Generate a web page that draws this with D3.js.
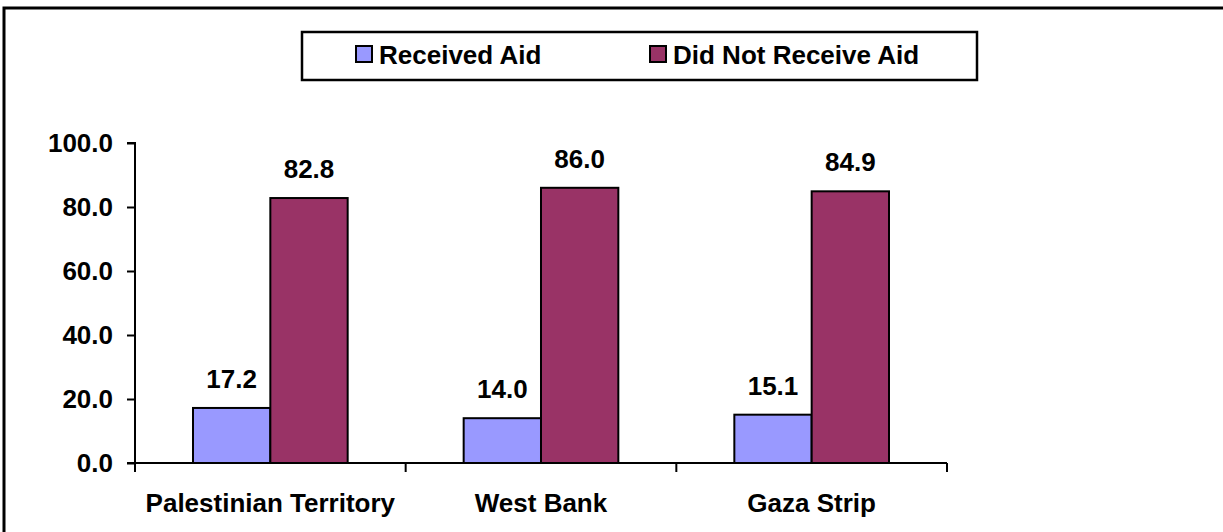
<html>
<head>
<script src="https://d3js.org/d3.v7.min.js"></script>
<style>
  body { margin: 0; background: #fff; font-family: Arial, 'Liberation Sans', sans-serif; }
  svg { display: block; }
</style>
</head>
<body>
<svg width="1223" height="532"></svg>
<script>
var regions = ["Palestinian Territory", "West Bank", "Gaza Strip"];
var series = ["Received Aid", "Did Not Receive Aid"];
var received = [17.2, 14.0, 15.1];
var notReceived = [82.8, 86.0, 84.9];
var yTicks = [0, 20, 40, 60, 80, 100];
var colors = ["#9999ff", "#993366"];

var svg = d3.select("svg");
var width = +svg.attr("width");
var height = +svg.attr("height");
var fs = 26;

// outer frame
svg.append("rect")
  .attr("x", 4).attr("y", 8)
  .attr("width", width + 10).attr("height", height + 10)
  .attr("fill", "none").attr("stroke", "#000").attr("stroke-width", 3);

var plotL = 135, plotR = 947, plotT = 143, plotB = 463;

var x = d3.scaleBand().domain(regions).range([plotL, plotR]).paddingInner(0).paddingOuter(0);
var xs = d3.scaleBand().domain([0, 1]).range([58, x.bandwidth() - 58]);
var y = d3.scaleLinear().domain([0, 100]).range([plotB, plotT]);

var rows = regions.map(function(r, i) { return { region: r, values: [received[i], notReceived[i]] }; });

var g = svg.append("g");
g.selectAll("g.grp")
  .data(rows).enter().append("g")
  .attr("transform", function(d) { return "translate(" + x(d.region) + ",0)"; })
  .each(function(d) {
    var grp = d3.select(this);
    d.values.forEach(function(v, k) {
      grp.append("rect")
        .attr("x", xs(k)).attr("y", y(v))
        .attr("width", xs.bandwidth()).attr("height", y(0) - y(v))
        .attr("fill", colors[k]).attr("stroke", "#000").attr("stroke-width", 2);
      grp.append("text")
        .attr("x", xs(k) + xs.bandwidth() / 2).attr("y", y(v) - 20)
        .attr("text-anchor", "middle")
        .attr("font-size", fs).attr("font-weight", "bold")
        .text(v.toFixed(1));
    });
  });

// y axis
var yAxis = d3.axisLeft(y).tickValues(yTicks).tickFormat(d3.format(".1f")).tickSize(8).tickPadding(14);
var ya = svg.append("g").attr("transform", "translate(" + plotL + ",0)").call(yAxis);
ya.select(".domain").attr("stroke-width", 2).attr("d", "M-8," + plotT + "H0V" + plotB + "H-8");
ya.selectAll(".tick line").attr("stroke-width", 2);
ya.selectAll("text").attr("font-size", fs).attr("font-weight", "bold")
  .attr("font-family", "Arial, 'Liberation Sans', sans-serif").attr("fill", "#000");

// x axis
var xa = svg.append("g").attr("transform", "translate(0," + plotB + ")");
xa.append("line").attr("x1", plotL).attr("x2", plotR).attr("y1", 0).attr("y2", 0)
  .attr("stroke", "#000").attr("stroke-width", 2);
var bounds = regions.map(function(r) { return x(r); }).concat([plotR]);
xa.selectAll("line.tk").data(bounds).enter().append("line")
  .attr("class", "tk")
  .attr("x1", function(d) { return d; }).attr("x2", function(d) { return d; })
  .attr("y1", 0).attr("y2", 9).attr("stroke", "#000").attr("stroke-width", 2);
xa.selectAll("text.cat").data(regions).enter().append("text")
  .attr("class", "cat")
  .attr("x", function(d) { return x(d) + x.bandwidth() / 2; })
  .attr("y", 49)
  .attr("text-anchor", "middle")
  .attr("font-size", fs).attr("font-weight", "bold")
  .text(function(d) { return d; });

// legend
var lg = svg.append("g");
lg.append("rect").attr("x", 302).attr("y", 32).attr("width", 675).attr("height", 48)
  .attr("fill", "#fff").attr("stroke", "#000").attr("stroke-width", 2.5);
var lx = [356, 650];
series.forEach(function(s, k) {
  lg.append("rect").attr("x", lx[k]).attr("y", 46).attr("width", 16).attr("height", 16)
    .attr("fill", colors[k]).attr("stroke", "#000").attr("stroke-width", 2);
  lg.append("text").attr("x", lx[k] + 23).attr("y", 64)
    .attr("font-size", fs).attr("font-weight", "bold").text(s);
});
</script>
</body>
</html>
